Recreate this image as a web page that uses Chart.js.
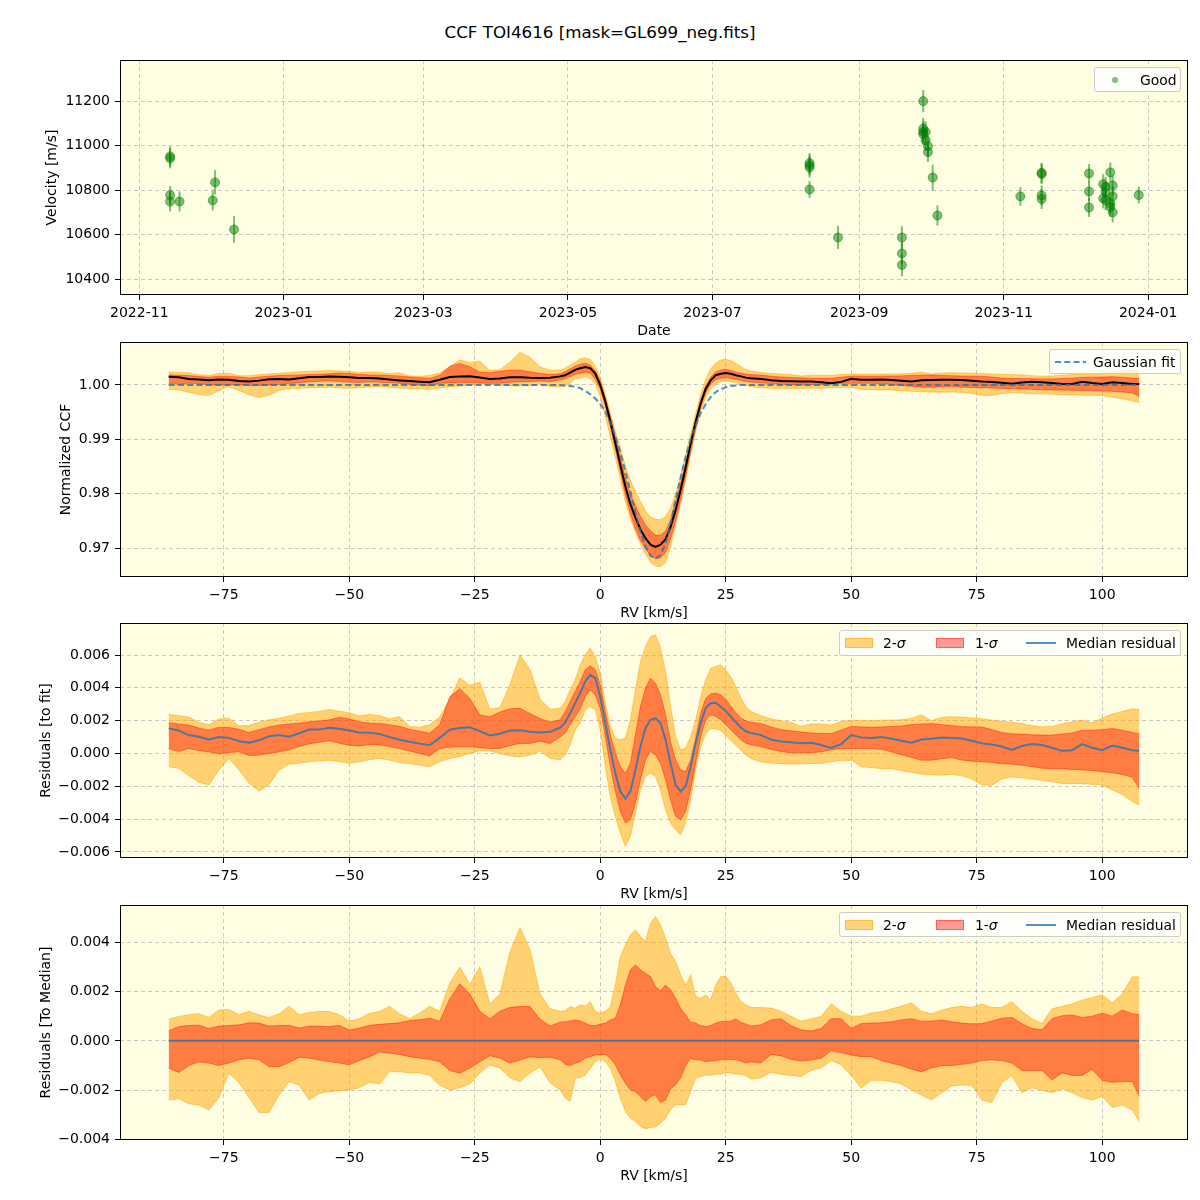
<!DOCTYPE html>
<html>
<head>
<meta charset="utf-8">
<title>CCF TOI4616</title>
<script src="https://cdn.jsdelivr.net/npm/chart.js@4.4.1/dist/chart.umd.min.js"></script>
<style>
  html, body { margin: 0; padding: 0; background: #fff; }
  body { width: 1200px; height: 1200px; position: relative; overflow: hidden; font-family: "DejaVu Sans", sans-serif; color: #000; }
  canvas { position: absolute; left: 0; }
  #title { position: absolute; top: 22px; left: 0; width: 1200px; text-align: center; font-size: 16.7px; line-height: 20px; }
  .legend { position: absolute; background: rgba(255,255,255,0.8); border: 1px solid #cccccc; border-radius: 3px; box-sizing: border-box; font-size: 13.9px; }
  .legend > * { position: absolute; }
  .legend span { line-height: 16px; white-space: nowrap; }
  .patch { height: 10px; width: 28px; box-sizing: border-box; }
</style>
</head>
<body>
<div id="title">CCF TOI4616 [mask=GL699_neg.fits]</div>
<canvas id="velChart" width="1200" height="291" style="top:50px"></canvas>
<canvas id="ccfChart" width="1200" height="291" style="top:332px"></canvas>
<canvas id="resChart" width="1200" height="291" style="top:613px"></canvas>
<canvas id="devChart" width="1200" height="291" style="top:895px"></canvas>

<div class="legend" style="left:1094px;top:67px;width:87px;height:25px">
  <div style="left:17px;top:9px;width:6px;height:6px;border-radius:50%;background:rgba(0,128,0,0.5)"></div>
  <span style="left:45px;top:3.5px">Good</span>
</div>
<div class="legend" style="left:1049px;top:349px;width:132px;height:25px">
  <svg style="left:5px;top:6px" width="32" height="12"><line x1="0" y1="6" x2="31" y2="6" stroke="rgba(31,119,180,0.8)" stroke-width="2" stroke-dasharray="6 3.3"/></svg>
  <span style="left:43px;top:3.5px">Gaussian fit</span>
</div>
<div class="legend" style="left:839px;top:630px;width:342px;height:26px">
  <div class="patch" style="left:5px;top:7px;background:rgba(255,165,0,0.5);border:1px solid rgba(255,165,0,0.5)"></div>
  <span style="left:43px;top:4px">2-<i>σ</i></span>
  <div class="patch" style="left:96px;top:7px;background:rgba(255,0,0,0.4);border:1px solid rgba(255,0,0,0.4)"></div>
  <span style="left:135px;top:4px">1-<i>σ</i></span>
  <div style="left:186px;top:11px;width:30px;height:2px;background:rgba(31,119,180,0.8)"></div>
  <span style="left:226px;top:4px">Median residual</span>
</div>
<div class="legend" style="left:839px;top:912px;width:342px;height:25px">
  <div class="patch" style="left:5px;top:7px;background:rgba(255,165,0,0.5);border:1px solid rgba(255,165,0,0.5)"></div>
  <span style="left:43px;top:3.5px">2-<i>σ</i></span>
  <div class="patch" style="left:96px;top:7px;background:rgba(255,0,0,0.4);border:1px solid rgba(255,0,0,0.4)"></div>
  <span style="left:135px;top:3.5px">1-<i>σ</i></span>
  <div style="left:186px;top:11px;width:30px;height:2px;background:rgba(31,119,180,0.8)"></div>
  <span style="left:226px;top:3.5px">Median residual</span>
</div>

<script>
// ---- velocity time series (top panel)
const obsDate = [
  '2022-11-14','2022-11-14','2022-11-14','2022-11-14','2022-11-18','2022-12-02','2022-12-03','2022-12-11',
  '2023-08-11','2023-08-11','2023-08-11','2023-08-11','2023-08-23',
  '2023-09-19','2023-09-19','2023-09-19',
  '2023-09-28','2023-09-28','2023-09-28','2023-09-28','2023-09-29','2023-09-29','2023-09-30','2023-09-30',
  '2023-10-02','2023-10-04','2023-11-08',
  '2023-11-17','2023-11-17','2023-11-17','2023-11-17',
  '2023-12-07','2023-12-07','2023-12-07',
  '2023-12-13','2023-12-13','2023-12-14','2023-12-14','2023-12-14',
  '2023-12-16','2023-12-16','2023-12-16','2023-12-17','2023-12-17','2023-12-17',
  '2023-12-28'
];
const obsRv = [
  10943, 10952, 10778, 10749, 10749, 10754, 10835, 10623,
  10922, 10912, 10902, 10803, 10587,
  10587, 10515, 10463,
  11201, 11077, 11062, 11052, 11062, 11025, 10998, 10972,
  10857, 10686, 10772,
  10873, 10878, 10776, 10760,
  10875, 10794, 10722,
  10827, 10763, 10815, 10755, 10792,
  10880, 10740, 10725, 10821, 10773, 10700,
  10778
];
const obsErr = [
  45, 45, 40, 45, 45, 45, 55, 60,
  45, 45, 45, 38, 52,
  50, 50, 50,
  50, 48, 48, 48, 48, 48, 45, 45,
  58, 45, 42,
  45, 45, 45, 45,
  42, 42, 42,
  45, 45, 45, 45, 45,
  45, 45, 45, 45, 45, 45,
  38
];
const dateTicks = ['2022-11-01','2023-01-01','2023-03-01','2023-05-01','2023-07-01','2023-09-01','2023-11-01','2024-01-01'];
const velTicks = [10400, 10600, 10800, 11000, 11200];

// ---- CCF profiles (RV grid shared by the three lower panels)
const rvGrid = [
  -86,-84,-82,-80,-78,-76,-74,-72,-70,-68,-66,-64,-62,-60,-58,-56,-54,-52,-50,-48,
  -46,-44,-42,-40,-38,-36,-34,-32,-30,-28,-26,-24,-22,-20,-18,-16,-14,-12,-10,-8,
  -7,-6,-5,-4,-3,-2,-1,0,1,2,3,4,5,6,7,8,9,10,11,12,13,14,15,16,17,18,19,20,
  21,22,23,24,25,26,27,28,29,30,
  32,34,36,38,40,42,44,46,48,50,52,54,56,58,60,62,64,66,68,70,
  72,74,76,78,80,82,84,86,88,90,92,94,96,98,100,102,104,106,107.4
];
const gaussFit = [
  1,1,1,1,1,1,1,1,1,1,1,1,1,1,1,1,1,1,1,1,
  1,1,1,1,1,1,1,1,1,1,1,1,1,1,1,1,1,1,1,1,
  0.9999,0.9998,0.9997,0.9994,0.9989,0.9983,0.9975,0.9965,0.9951,0.9931,0.9905,0.9876,0.9841,0.9804,0.9766,0.9730,0.9703,0.9686,0.9681,0.9688,
  0.9708,0.9745,0.9789,0.9830,0.9868,0.9900,0.9926,0.9948,0.9965,0.9978,0.9987,0.9992,0.9996,0.9998,0.9999,1,1,1,
  1,1,1,1,1,1,1,1,1,1,1,1,1,1,1,1,1,1,1,1,
  1,1,1,1,1,1,1,1,1,1,1,1,1,1,1,1,1,1,1
];

// residuals to the fit: median and percentile envelopes
const resMed = [
  0.00153,0.0014,0.00112,0.00102,0.00086,0.001,0.00095,0.00075,0.00065,0.0008,0.00105,0.00112,0.00102,0.00123,0.00146,0.00146,0.00157,0.0015,0.0014,0.00128,
  0.00126,0.00118,0.001,0.00084,0.00072,0.0006,0.0005,0.00095,0.00145,0.00155,0.0016,0.00136,0.0011,0.0012,0.0014,0.00142,0.00132,0.00128,0.00132,0.00158,
  0.00189,0.00246,0.00307,0.00368,0.00439,0.00479,0.00459,0.00347,0.00185,0.00022,-0.0012,-0.00231,-0.00276,-0.00231,-0.001,0.00043,0.00154,0.00205,0.00215,0.00185,
  0.00083,-0.00059,-0.00191,-0.00231,-0.00201,-0.00079,0.00063,0.00185,0.00276,0.00307,0.00309,0.00285,0.00258,0.00225,0.0019,0.00158,0.00135,0.00125,
  0.00112,0.00085,0.00073,0.00068,0.00062,0.00065,0.00052,0.00033,0.00057,0.00112,0.00098,0.00094,0.00101,0.0009,0.00078,0.00066,0.00085,0.0009,0.00097,0.00095,
  0.00091,0.00077,0.00062,0.00055,0.00042,0.00022,0.00045,0.00058,0.00052,0.00035,0.00016,0.0002,0.00057,0.00035,0.0002,0.00048,0.00035,0.0002,0.00016
];
const res1Hi = [
  0.00187,0.0018,0.00173,0.00155,0.00142,0.0016,0.00158,0.00148,0.00128,0.00145,0.00162,0.00173,0.0018,0.00185,0.00193,0.00198,0.00205,0.0022,0.0021,0.00194,
  0.00185,0.00183,0.00175,0.00165,0.00148,0.00135,0.00123,0.00175,0.00345,0.00395,0.00335,0.00235,0.00224,0.00252,0.00272,0.00275,0.00243,0.00213,0.00192,0.00205,
  0.00256,0.00317,0.00378,0.00439,0.0051,0.00534,0.0051,0.00418,0.00256,0.00114,0,-0.00079,-0.0012,-0.00059,0.00114,0.00286,0.00398,0.00459,0.00428,0.00357,
  0.00236,0.00073,-0.00039,-0.001,-0.0011,-0.00039,0.00093,0.00246,0.00337,0.00363,0.00368,0.00357,0.00331,0.00286,0.0025,0.00215,0.002,0.0019,
  0.00183,0.00162,0.00146,0.00138,0.00131,0.00125,0.00122,0.00122,0.00142,0.00165,0.00162,0.00159,0.00162,0.00164,0.00167,0.00176,0.0018,0.00182,0.00175,0.0017,
  0.00163,0.00163,0.00161,0.00146,0.00128,0.0012,0.00118,0.00114,0.00112,0.00112,0.00118,0.00125,0.00142,0.00142,0.00145,0.00152,0.00142,0.00128,0.00118
];
const res1Lo = [
  0.0003,0.00012,0.0003,0.00018,0.0001,-0.00002,0.00006,0.0001,-0.00012,-0.0001,0,0.0001,0.00022,0.00042,0.00058,0.00068,0.00077,0.00062,0.0005,0.00046,
  0.00055,0.00052,0.00042,0.0003,0.00015,0,-0.00015,0.0003,0.00038,0.00041,0.00041,0.00035,0.00031,0.00031,0.00048,0.00061,0.00061,0.00075,0.0006,0.001,
  0.00124,0.00175,0.00225,0.0027,0.00347,0.00388,0.00357,0.00276,0.00104,-0.00079,-0.00231,-0.00353,-0.00424,-0.00404,-0.00302,-0.0016,-0.00039,0.00012,-0.00008,-0.00059,
  -0.0016,-0.00282,-0.00384,-0.00404,-0.00353,-0.00221,-0.00059,0.00104,0.00205,0.00236,0.00225,0.00205,0.00175,0.00144,0.00114,0.00083,0.00063,0.00053,
  0.00041,0.00025,0.00012,0.00004,0.00004,0.00005,0.0001,0.00022,0.0003,0.00031,0.00031,0.00031,0.00025,0.0001,-0.00008,-0.00025,-0.00041,-0.00041,-0.00032,-0.00025,
  -0.0004,-0.00047,-0.00051,-0.00055,-0.00063,-0.00065,-0.00072,-0.0008,-0.0009,-0.00092,-0.00093,-0.00097,-0.001,-0.00104,-0.00112,-0.00117,-0.00128,-0.00145,-0.00214
];
const res2Hi = [
  0.00238,0.0023,0.00222,0.0019,0.00175,0.0021,0.00215,0.00168,0.0017,0.0019,0.00205,0.00215,0.00228,0.00244,0.0025,0.00256,0.00268,0.00258,0.00248,0.00228,
  0.00238,0.00232,0.0021,0.00225,0.00165,0.0016,0.00175,0.00222,0.0033,0.0046,0.00415,0.00435,0.0027,0.0028,0.0042,0.006,0.0051,0.0033,0.0027,0.00276,
  0.00317,0.00388,0.00449,0.0054,0.00601,0.00642,0.00591,0.00489,0.00307,0.00164,0.00093,0.00083,0.00093,0.00205,0.00388,0.0056,0.00652,0.00713,0.00723,0.00642,
  0.005,0.00286,0.00104,0.00022,0.00032,0.00104,0.00205,0.00347,0.00449,0.0052,0.0053,0.0054,0.0051,0.00469,0.00408,0.00337,0.00286,0.00256,
  0.0023,0.0021,0.002,0.0019,0.00165,0.0018,0.0018,0.00173,0.00195,0.00203,0.002,0.002,0.00203,0.00203,0.00205,0.00215,0.00235,0.002,0.0022,0.00224,
  0.00222,0.00216,0.00212,0.00203,0.00196,0.0019,0.00183,0.0017,0.00162,0.00165,0.0018,0.00193,0.00203,0.00187,0.00215,0.0024,0.00255,0.00272,0.00268
];
const res2Lo = [
  -0.00081,-0.0009,-0.00135,-0.00175,-0.00193,-0.001,-0.0003,-0.001,-0.0018,-0.0023,-0.0019,-0.001,-0.00065,-0.0006,-0.0005,-0.00046,-0.00041,-0.0005,-0.0006,-0.0005,
  -0.00038,-0.00031,-0.0004,-0.00055,-0.00063,-0.00071,-0.0008,-0.00051,-0.00031,-0.00018,0,0.00016,0.00015,0,-0.00015,-0.0002,-0.0001,0.00015,-0.0003,-0.00039,
  -0.0001,0.00053,0.00144,0.00185,0.00266,0.00286,0.00266,0.00144,-0.00079,-0.00262,-0.00384,-0.00485,-0.00566,-0.00505,-0.00363,-0.00221,-0.0014,-0.0012,-0.0014,-0.00221,
  -0.00343,-0.00424,-0.00465,-0.00495,-0.00424,-0.00282,-0.001,0.00043,0.0012,0.0015,0.0015,0.0014,0.0011,0.0008,0.0005,0.0002,-0.0001,-0.0003,
  -0.00051,-0.00058,-0.00062,-0.00065,-0.00063,-0.00061,-0.00061,-0.0005,-0.00043,-0.00041,-0.00081,-0.00086,-0.00092,-0.00092,-0.00105,-0.00115,-0.00126,-0.0013,-0.00132,-0.00128,
  -0.00135,-0.00155,-0.0019,-0.00195,-0.00155,-0.00143,-0.00148,-0.00155,-0.00163,-0.00172,-0.00183,-0.00183,-0.00184,-0.00187,-0.00193,-0.00222,-0.0025,-0.00293,-0.00315
];

// residuals to the median CCF: percentile envelopes
const dev2Hi = [
  0.00088,0.00099,0.00106,0.0011,0.00095,0.00125,0.00127,0.00106,0.0012,0.00105,0.00095,0.0011,0.0014,0.00106,0.00115,0.00119,0.00119,0.00106,0.0008,0.0009,
  0.00112,0.00119,0.0014,0.0011,0.0009,0.00112,0.0014,0.0012,0.00234,0.003,0.0023,0.003,0.0015,0.0019,0.0036,0.0046,0.0037,0.0019,0.0013,0.0012,
  0.00122,0.00139,0.00132,0.00146,0.0014,0.00159,0.00119,0.00112,0.0012,0.00139,0.00227,0.00342,0.00389,0.0043,0.0045,0.00423,0.00403,0.00477,0.00504,0.0047,
  0.00416,0.00355,0.00322,0.00268,0.00227,0.00268,0.0018,0.00173,0.00186,0.00166,0.00227,0.00261,0.00261,0.00235,0.00195,0.0016,0.00146,0.00135,
  0.00135,0.00133,0.0012,0.001,0.0008,0.0009,0.00099,0.0015,0.0012,0.001,0.001,0.00113,0.00118,0.0013,0.0014,0.00155,0.0012,0.0011,0.00124,0.00135,
  0.0014,0.00135,0.0015,0.00135,0.00135,0.0016,0.0012,0.0009,0.0007,0.0013,0.0014,0.0015,0.00165,0.00175,0.00187,0.00155,0.0019,0.0026,0.00259
];
const dev1Hi = [
  0.00041,0.00058,0.00062,0.00064,0.0005,0.0006,0.00062,0.00065,0.00073,0.00072,0.0006,0.00062,0.00063,0.00052,0.0006,0.0006,0.00058,0.00063,0.00044,0.00052,
  0.00063,0.00067,0.0007,0.00073,0.00083,0.00086,0.00092,0.0008,0.0017,0.00232,0.0019,0.0012,0.0009,0.0012,0.00136,0.00139,0.00139,0.00088,0.0006,0.00076,
  0.00078,0.00081,0.00085,0.00081,0.00072,0.00062,0.00062,0.00068,0.00072,0.00085,0.00092,0.00146,0.00227,0.00288,0.00308,0.00288,0.00274,0.00261,0.0022,0.00203,
  0.00227,0.00207,0.00173,0.00132,0.00105,0.00076,0.00072,0.00062,0.00058,0.00062,0.00072,0.00078,0.00079,0.00081,0.00089,0.00075,0.00068,0.0006,
  0.00065,0.00085,0.0009,0.00062,0.00045,0.0004,0.0005,0.0009,0.0009,0.00051,0.0007,0.00072,0.00073,0.00078,0.00085,0.0009,0.0008,0.0008,0.00085,0.00078,
  0.00072,0.00069,0.0007,0.0008,0.00092,0.00095,0.0007,0.0005,0.00045,0.0009,0.00102,0.00105,0.00095,0.001,0.00112,0.001,0.00125,0.0011,0.00106
];
const dev1Lo = [
  -0.0011,-0.00128,-0.001,-0.00085,-0.0009,-0.001,-0.0009,-0.00077,-0.0007,-0.00077,-0.00105,-0.00105,-0.00088,-0.00066,-0.0007,-0.00078,-0.00084,-0.0009,-0.00097,-0.0008,
  -0.00065,-0.00045,-0.0005,-0.00055,-0.00064,-0.0007,-0.00075,-0.00085,-0.0012,-0.00131,-0.0011,-0.00085,-0.0006,-0.0007,-0.0009,-0.00078,-0.00065,-0.00068,-0.00066,-0.00077,
  -0.00095,-0.001,-0.00091,-0.00084,-0.0007,-0.00064,-0.00057,-0.00057,-0.00054,-0.0007,-0.00097,-0.00138,-0.00172,-0.00199,-0.00205,-0.00226,-0.00246,-0.00226,-0.00219,-0.0025,
  -0.0024,-0.00195,-0.00178,-0.0015,-0.001,-0.0007,-0.00077,-0.00078,-0.00084,-0.00082,-0.0008,-0.00077,-0.00077,-0.00075,-0.00077,-0.00082,-0.0009,-0.00085,
  -0.0009,-0.00055,-0.0006,-0.00075,-0.00082,-0.00078,-0.0007,-0.0004,-0.00048,-0.00057,-0.00064,-0.00064,-0.0008,-0.00091,-0.001,-0.00115,-0.00125,-0.0011,-0.001,-0.001,
  -0.00095,-0.0009,-0.0008,-0.00077,-0.0008,-0.0009,-0.0012,-0.0012,-0.0012,-0.00158,-0.0013,-0.0014,-0.0014,-0.00115,-0.0016,-0.00168,-0.00165,-0.00165,-0.00226
];
const dev2Lo = [
  -0.0024,-0.00235,-0.00255,-0.0026,-0.0028,-0.0023,-0.0013,-0.0017,-0.0023,-0.0029,-0.0029,-0.0022,-0.00165,-0.0018,-0.0024,-0.00213,-0.00206,-0.00202,-0.00199,-0.0019,
  -0.00168,-0.00175,-0.00125,-0.00125,-0.0013,-0.0013,-0.0014,-0.0018,-0.002,-0.0019,-0.00175,-0.0013,-0.00098,-0.0011,-0.0015,-0.00165,-0.0013,-0.00105,-0.0017,-0.002,
  -0.00232,-0.00246,-0.00151,-0.00149,-0.00138,-0.00111,-0.00084,-0.00073,-0.00084,-0.00111,-0.00165,-0.00232,-0.00286,-0.00314,-0.00327,-0.00347,-0.00357,-0.00351,-0.00349,-0.00334,
  -0.00314,-0.0028,-0.00259,-0.00259,-0.00259,-0.00205,-0.00151,-0.00145,-0.00138,-0.0014,-0.00135,-0.00135,-0.00128,-0.0013,-0.00135,-0.00135,-0.0014,-0.00155,
  -0.0015,-0.00127,-0.00135,-0.0014,-0.00145,-0.0012,-0.0011,-0.0008,-0.00097,-0.0014,-0.00192,-0.0016,-0.0016,-0.00165,-0.00175,-0.002,-0.0022,-0.0024,-0.0021,-0.00183,
  -0.00179,-0.0018,-0.0024,-0.0025,-0.0017,-0.0014,-0.0021,-0.0019,-0.002,-0.0021,-0.00195,-0.0021,-0.0023,-0.0024,-0.00226,-0.0027,-0.0026,-0.0028,-0.00328
];

const rvTicks = [-75, -50, -25, 0, 25, 50, 75, 100];
const ccfTicks = [0.97, 0.98, 0.99, 1.00];
const resTicks = [-0.006, -0.004, -0.002, 0, 0.002, 0.004, 0.006];
const devTicks = [-0.004, -0.002, 0, 0.002, 0.004];

// ---- styling
const AXES_BG = '#fffde2';
const GRID = 'rgba(150,150,170,0.5)';
const C_2SIG = 'rgba(255,165,0,0.5)';
const C_1SIG = 'rgba(255,0,0,0.4)';
const C_MED = 'rgba(31,119,180,0.8)';
const C_GOOD = 'rgba(0,128,0,0.5)';
const X_AXIS_H = 46;

Chart.defaults.font.family = '"DejaVu Sans", sans-serif';
Chart.defaults.font.size = 14;
Chart.defaults.color = '#000';

const DAY0 = Date.parse('2022-11-01');
const toDay = s => (Date.parse(s) - DAY0) / 86400000;
const fmt = d => v => v.toFixed(d).replace('-', '\u2212');

const axesFrame = {
  id: 'axesFrame',
  beforeDraw(chart) {
    const { ctx, chartArea: a } = chart;
    ctx.save();
    ctx.fillStyle = AXES_BG;
    ctx.fillRect(a.left, a.top, a.right - a.left, a.bottom - a.top);
    ctx.restore();
  },
  afterDraw(chart) {
    const { ctx, chartArea: a } = chart;
    ctx.save();
    ctx.strokeStyle = '#000';
    ctx.lineWidth = 1;
    ctx.strokeRect(a.left + 0.5, a.top + 0.5, a.right - a.left - 1, a.bottom - a.top - 1);
    ctx.restore();
  }
};

const errorBars = {
  id: 'errorBars',
  beforeDatasetsDraw(chart) {
    const { ctx, chartArea: a, scales: { x, y } } = chart;
    ctx.save();
    ctx.beginPath();
    ctx.rect(a.left, a.top, a.right - a.left, a.bottom - a.top);
    ctx.clip();
    ctx.strokeStyle = C_GOOD;
    ctx.lineWidth = 2;
    obsDate.forEach((d, i) => {
      const px = x.getPixelForValue(toDay(d));
      ctx.beginPath();
      ctx.moveTo(px, y.getPixelForValue(obsRv[i] - obsErr[i]));
      ctx.lineTo(px, y.getPixelForValue(obsRv[i] + obsErr[i]));
      ctx.stroke();
    });
    ctx.restore();
  }
};

function axis(kind, min, max, ticks, label, title, titlePad) {
  return {
    type: 'linear', min, max,
    afterBuildTicks: s => { s.ticks = ticks.map(v => ({ value: v })); },
    afterFit: s => {
      if (kind === 'x') s.height = X_AXIS_H; else s.width = 120;
      s.paddingTop = 0; s.paddingBottom = 0; s.paddingLeft = 0; s.paddingRight = 0;
    },
    ticks: { callback: label, autoSkip: false, maxRotation: 0, padding: 5, color: '#000' },
    grid: { color: GRID, lineWidth: 1, tickLength: 5, tickColor: '#000', tickWidth: 1, tickBorderDash: [] },
    border: { display: false, dash: [4, 3] },
    title: { display: true, text: title, color: '#000',
             padding: kind === 'x' ? { top: 0, bottom: 1.5 } : { top: titlePad, bottom: 0 } }
  };
}

function baseOptions(scales) {
  return {
    responsive: false, animation: false, devicePixelRatio: 1,
    layout: { padding: { top: 10, right: 12, left: 0, bottom: 0 } },
    plugins: { legend: { display: false }, tooltip: { enabled: false } },
    elements: { point: { radius: 0 }, line: { tension: 0 } },
    scales
  };
}

const pts = arr => rvGrid.map((x, i) => ({ x, y: arr[i] }));
const onFit = arr => rvGrid.map((x, i) => ({ x, y: gaussFit[i] + arr[i] }));

function line(data, color, width, order, extra) {
  return Object.assign({ data, borderColor: color, backgroundColor: color, borderWidth: width,
                         pointRadius: 0, fill: false, order }, extra || {});
}

// band datasets: hi fills down to its lo partner (absolute dataset index)
function bands(hi2, lo2, hi1, lo1, start) {
  return [
    line(hi1, C_1SIG, 1, 2, { fill: { target: start + 1 } }),
    line(lo1, C_1SIG, 1, 3),
    line(hi2, C_2SIG, 1, 4, { fill: { target: start + 3 } }),
    line(lo2, C_2SIG, 1, 5)
  ];
}

const rvAxis = () => axis('x', -95.7, 117.1, rvTicks, fmt(0), 'RV [km/s]');

new Chart(document.getElementById('velChart'), {
  type: 'scatter',
  data: {
    datasets: [{
      data: obsDate.map((d, i) => ({ x: toDay(d), y: obsRv[i] })),
      pointRadius: 4.5, pointBorderWidth: 1,
      pointBackgroundColor: C_GOOD, pointBorderColor: C_GOOD
    }]
  },
  options: baseOptions({
    x: axis('x', -8.15, 442.8, dateTicks.map(toDay), (v, i) => dateTicks[i].slice(0, 7), 'Date'),
    y: axis('y', 10328, 11386, velTicks, fmt(0), 'Velocity [m/s]', 43.6)
  }),
  plugins: [axesFrame, errorBars]
});

new Chart(document.getElementById('ccfChart'), {
  type: 'line',
  data: {
    datasets: [
      line(pts(gaussFit), C_MED, 2, 0, { borderDash: [6, 3.3] }),
      line(onFit(resMed), '#000', 2, 1),
      ...bands(onFit(res2Hi), onFit(res2Lo), onFit(res1Hi), onFit(res1Lo), 2)
    ]
  },
  options: baseOptions({
    x: rvAxis(),
    y: axis('y', 0.9647, 1.0079, ccfTicks, fmt(2), 'Normalized CCF', 57.6)
  }),
  plugins: [axesFrame]
});

new Chart(document.getElementById('resChart'), {
  type: 'line',
  data: {
    datasets: [
      line(pts(resMed), C_MED, 2, 1),
      ...bands(pts(res2Hi), pts(res2Lo), pts(res1Hi), pts(res1Lo), 1)
    ]
  },
  options: baseOptions({
    x: rvAxis(),
    y: axis('y', -0.00637, 0.00795, resTicks, fmt(3), 'Residuals [to fit]', 37.6)
  }),
  plugins: [axesFrame]
});

new Chart(document.getElementById('devChart'), {
  type: 'line',
  data: {
    datasets: [
      line(rvGrid.map(x => ({ x, y: 0 })), C_MED, 2, 1),
      ...bands(pts(dev2Hi), pts(dev2Lo), pts(dev1Hi), pts(dev1Lo), 1)
    ]
  },
  options: baseOptions({
    x: rvAxis(),
    y: axis('y', -0.00402, 0.00551, devTicks, fmt(3), 'Residuals [To Median]', 37.6)
  }),
  plugins: [axesFrame]
});
</script>
</body>
</html>
